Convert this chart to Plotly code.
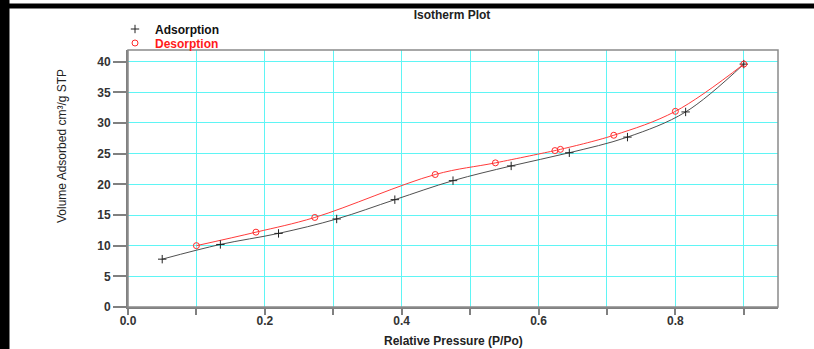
import plotly.graph_objects as go

ads_x = [0.05, 0.135, 0.22, 0.305, 0.39, 0.475, 0.56, 0.645, 0.73, 0.815, 0.9]
ads_y = [7.8, 10.2, 12.0, 14.35, 17.5, 20.6, 23.0, 25.15, 27.7, 31.8, 39.6]
des_x = [0.1, 0.187, 0.273, 0.449, 0.537, 0.624, 0.632, 0.71, 0.8, 0.9]
des_y = [10.0, 12.2, 14.6, 21.6, 23.5, 25.5, 25.7, 28.0, 31.9, 39.6]
x_ticks = [0.0, 0.1, 0.2, 0.3, 0.4, 0.5, 0.6, 0.7, 0.8, 0.9]
x_labels = ["<b>0.0</b>", "", "<b>0.2</b>", "", "<b>0.4</b>", "", "<b>0.6</b>", "", "<b>0.8</b>", ""]
y_ticks = [0, 5, 10, 15, 20, 25, 30, 35, 40]
y_labels = ["<b>%d</b>" % v for v in y_ticks]

W, H = 814, 349
L, R, T, B = 128, 36, 50, 42
pw, ph = W - L - R, H - T - B

def px(xp):
    return (xp - L) / pw

def py(yp):
    return 1 - (yp - T) / ph

FONT = "Liberation Sans, Arial, sans-serif"

fig = go.Figure()
fig.add_trace(go.Scatter(x=ads_x, y=ads_y, mode="lines", line=dict(color="#505050", width=1, shape="spline"),
                         showlegend=False, hoverinfo="skip"))
fig.add_trace(go.Scatter(x=des_x, y=des_y, mode="lines", line=dict(color="#ff3b3b", width=1, shape="spline"),
                         showlegend=False, hoverinfo="skip"))
fig.add_trace(go.Scatter(x=ads_x, y=ads_y, mode="markers", name="<b>Adsorption</b>", legend="legend",
                         marker=dict(symbol="cross-thin", size=6, line=dict(color="#222", width=1), color="#222")))
fig.add_trace(go.Scatter(x=des_x, y=des_y, mode="markers", name="<b><span style='color:#ff1a1a'>Desorption</span></b>",
                         legend="legend2",
                         marker=dict(symbol="circle-open", size=6, line=dict(color="#ff2a2a", width=1), color="#ff2a2a")))

shapes = [
    dict(type="rect", xref="paper", yref="paper", x0=px(0), x1=px(9.5), y0=py(H + 5), y1=py(-5),
         fillcolor="black", line=dict(width=0), layer="above"),
    dict(type="rect", xref="paper", yref="paper", x0=px(0), x1=px(W + 5), y0=py(8.5), y1=py(3.5),
         fillcolor="black", line=dict(width=0), layer="above"),
    dict(type="rect", xref="paper", yref="paper", x0=0, x1=1, y0=0, y1=1,
         line=dict(color="#8a8a8a", width=1.5), layer="above"),
]

annotations = [
    dict(text="Volume Adsorbed cm³/g STP", xref="paper", yref="paper", x=px(62), y=py(146),
         xanchor="center", yanchor="middle", textangle=-90, showarrow=False,
         font=dict(family=FONT, size=12, color="#222")),
    dict(text="<b>Relative Pressure (P/Po)</b>", xref="paper", yref="paper", x=px(453), y=py(341),
         xanchor="center", yanchor="middle", showarrow=False,
         font=dict(family=FONT, size=12, color="#222")),
]

leg_common = dict(xanchor="left", yanchor="middle", bgcolor="rgba(0,0,0,0)",
                  font=dict(family=FONT, size=12, color="#111"), itemwidth=30)

fig.update_layout(
    width=W, height=H,
    margin=dict(l=L, r=R, t=T, b=B),
    paper_bgcolor="white", plot_bgcolor="white",
    font=dict(family=FONT, size=12, color="#222"),
    title=dict(text="<b>Isotherm Plot</b>", xref="paper", x=px(452), xanchor="center",
               yref="container", y=1 - 15 / H, yanchor="middle",
               font=dict(size=12, color="#222")),
    legend=dict(x=px(115), y=py(29), **leg_common),
    legend2=dict(x=px(115), y=py(43), **leg_common),
    shapes=shapes,
    annotations=annotations,
    xaxis=dict(range=[0, 0.95], tickvals=x_ticks, ticktext=x_labels, showgrid=True, gridcolor="#5ff5f5",
               gridwidth=1, zeroline=False, showline=True, linecolor="#808080", linewidth=2,
               ticks="outside", ticklen=6, tickcolor="#808080", tickwidth=1.5, ticklabelstandoff=-4,
               tickfont=dict(size=12, color="#333", family=FONT)),
    yaxis=dict(range=[0, 41.9], tickvals=y_ticks, ticktext=y_labels, showgrid=True, gridcolor="#5ff5f5",
               gridwidth=1, zeroline=False, showline=True, linecolor="#808080", linewidth=2,
               ticks="outside", ticklen=13, tickcolor="#808080", tickwidth=1.5,
               tickfont=dict(size=12, color="#333", family=FONT)),
)
fig.write_html("out.html")
